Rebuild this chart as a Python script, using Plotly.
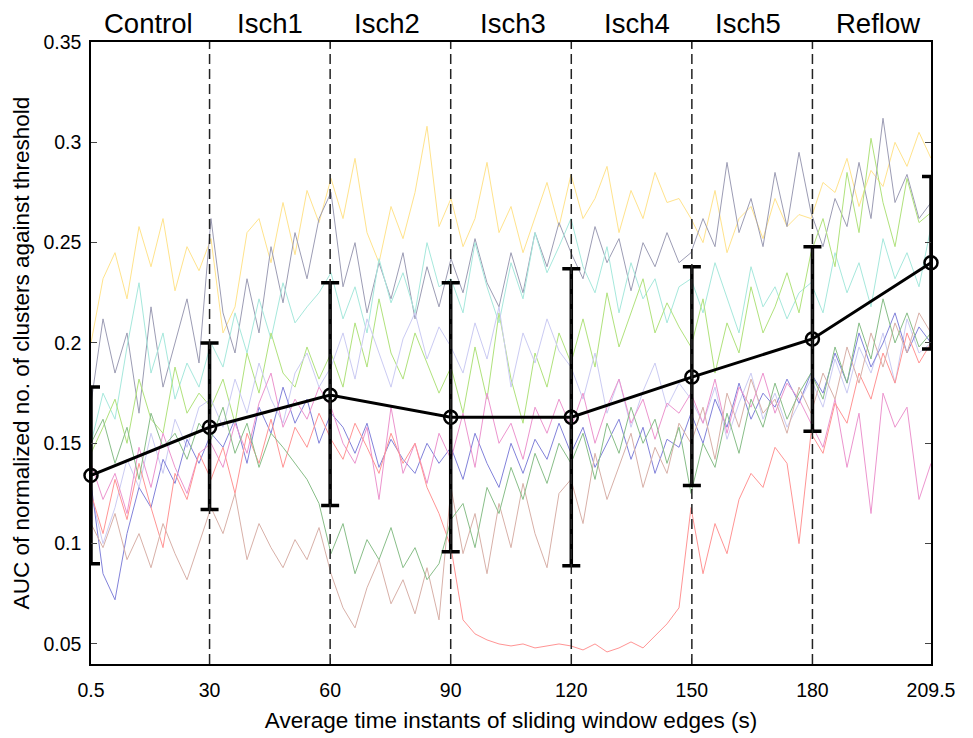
import numpy as np
import plotly.graph_objects as go

# ---------------- data ----------------
time_s = np.linspace(0.5, 209.5, 71)

yellow = [0.200, 0.232, 0.245, 0.222, 0.258, 0.238, 0.262, 0.226, 0.248, 0.236,
          0.252, 0.205, 0.218, 0.255, 0.262, 0.240, 0.270, 0.244, 0.276, 0.260,
          0.282, 0.262, 0.292, 0.255, 0.240, 0.268, 0.252, 0.275, 0.308, 0.258,
          0.272, 0.248, 0.262, 0.290, 0.255, 0.268, 0.245, 0.262, 0.280, 0.258,
          0.284, 0.262, 0.272, 0.288, 0.255, 0.276, 0.262, 0.285, 0.270, 0.272,
          0.262, 0.250, 0.276, 0.245, 0.262, 0.268, 0.252, 0.272, 0.258, 0.264,
          0.262, 0.280, 0.275, 0.292, 0.268, 0.286, 0.278, 0.300, 0.288, 0.305, 0.292]
gray = [0.170, 0.212, 0.185, 0.205, 0.165, 0.218, 0.178, 0.200, 0.222, 0.190,
        0.262, 0.215, 0.195, 0.232, 0.205, 0.248, 0.220, 0.255, 0.232, 0.262,
        0.275, 0.228, 0.250, 0.215, 0.240, 0.222, 0.245, 0.212, 0.238, 0.218,
        0.242, 0.225, 0.252, 0.230, 0.218, 0.245, 0.225, 0.255, 0.238, 0.260,
        0.245, 0.232, 0.258, 0.240, 0.252, 0.226, 0.250, 0.238, 0.255, 0.240,
        0.245, 0.262, 0.248, 0.290, 0.255, 0.272, 0.248, 0.285, 0.258, 0.295,
        0.265, 0.248, 0.272, 0.258, 0.290, 0.262, 0.312, 0.270, 0.284, 0.262, 0.270]
cyan = [0.150, 0.175, 0.162, 0.198, 0.230, 0.185, 0.205, 0.172, 0.190, 0.178,
        0.200, 0.188, 0.215, 0.195, 0.222, 0.202, 0.230, 0.210, 0.218, 0.225,
        0.235, 0.212, 0.228, 0.205, 0.242, 0.220, 0.235, 0.215, 0.250, 0.228,
        0.232, 0.215, 0.250, 0.228, 0.210, 0.240, 0.222, 0.255, 0.235, 0.248,
        0.262, 0.238, 0.225, 0.248, 0.215, 0.240, 0.222, 0.232, 0.210, 0.228,
        0.232, 0.215, 0.240, 0.222, 0.205, 0.238, 0.218, 0.228, 0.212, 0.225,
        0.230, 0.215, 0.245, 0.225, 0.240, 0.218, 0.252, 0.232, 0.245, 0.228, 0.258]
light_green = [0.145, 0.158, 0.172, 0.150, 0.182, 0.162, 0.155, 0.188, 0.165, 0.175,
               0.168, 0.182, 0.160, 0.195, 0.175, 0.205, 0.185, 0.178, 0.198, 0.182,
               0.195, 0.178, 0.210, 0.188, 0.222, 0.195, 0.182, 0.205, 0.190, 0.175,
               0.188, 0.165, 0.198, 0.172, 0.215, 0.182, 0.160, 0.195, 0.178, 0.205,
               0.190, 0.212, 0.188, 0.225, 0.198, 0.215, 0.232, 0.205, 0.220, 0.208,
               0.198, 0.222, 0.185, 0.210, 0.195, 0.228, 0.205, 0.218, 0.235, 0.215,
               0.245, 0.262, 0.238, 0.285, 0.255, 0.302, 0.270, 0.248, 0.282, 0.260, 0.265]
lavender = [0.125, 0.100, 0.118, 0.142, 0.128, 0.155, 0.135, 0.162, 0.148, 0.168,
            0.172, 0.158, 0.182, 0.165, 0.190, 0.172, 0.160, 0.185, 0.195, 0.178,
            0.188, 0.205, 0.182, 0.212, 0.195, 0.178, 0.202, 0.215, 0.192, 0.208,
            0.198, 0.185, 0.210, 0.192, 0.218, 0.178, 0.205, 0.190, 0.212, 0.196,
            0.188, 0.172, 0.195, 0.165, 0.182, 0.158, 0.176, 0.190, 0.168, 0.180,
            0.172, 0.160, 0.178, 0.152, 0.170, 0.185, 0.162, 0.175, 0.158, 0.170,
            0.182, 0.168, 0.192, 0.175, 0.198, 0.185, 0.205, 0.180, 0.212, 0.195, 0.200]
blue = [0.130, 0.085, 0.072, 0.105, 0.128, 0.118, 0.142, 0.130, 0.152, 0.140,
        0.155, 0.148, 0.162, 0.140, 0.168, 0.155, 0.178, 0.160, 0.172, 0.150,
        0.165, 0.158, 0.145, 0.160, 0.138, 0.152, 0.142, 0.135, 0.150, 0.140,
        0.148, 0.132, 0.155, 0.140, 0.128, 0.150, 0.135, 0.152, 0.142, 0.160,
        0.145, 0.158, 0.138, 0.150, 0.162, 0.142, 0.158, 0.135, 0.152, 0.148,
        0.165, 0.150, 0.172, 0.158, 0.180, 0.162, 0.175, 0.168, 0.182, 0.170,
        0.185, 0.175, 0.195, 0.180, 0.205, 0.188, 0.200, 0.215, 0.195, 0.208, 0.200]
pink = [0.140, 0.122, 0.135, 0.115, 0.148, 0.128, 0.155, 0.138, 0.125, 0.145,
        0.150, 0.138, 0.160, 0.145, 0.170, 0.185, 0.158, 0.172, 0.162, 0.178,
        0.168, 0.150, 0.140, 0.158, 0.122, 0.168, 0.135, 0.150, 0.130, 0.155,
        0.142, 0.165, 0.138, 0.175, 0.150, 0.160, 0.142, 0.168, 0.155, 0.172,
        0.158, 0.175, 0.150, 0.168, 0.182, 0.160, 0.172, 0.152, 0.170, 0.165,
        0.175, 0.160, 0.182, 0.155, 0.178, 0.168, 0.185, 0.165, 0.180, 0.172,
        0.160, 0.148, 0.172, 0.138, 0.165, 0.115, 0.175, 0.158, 0.168, 0.122, 0.140]
red = [0.125, 0.105, 0.132, 0.112, 0.140, 0.118, 0.098, 0.135, 0.122, 0.145,
       0.132, 0.148, 0.125, 0.155, 0.140, 0.162, 0.138, 0.158, 0.148, 0.165,
       0.152, 0.142, 0.160, 0.148, 0.135, 0.155, 0.140, 0.150, 0.128, 0.115,
       0.098, 0.062, 0.055, 0.052, 0.050, 0.049, 0.050, 0.048, 0.049, 0.050,
       0.049, 0.047, 0.050, 0.046, 0.048, 0.051, 0.048, 0.054, 0.060, 0.068,
       0.118, 0.085, 0.110, 0.095, 0.122, 0.135, 0.128, 0.148, 0.140, 0.100,
       0.155, 0.145, 0.170, 0.160, 0.185, 0.172, 0.195, 0.180, 0.205, 0.190, 0.200]
brown = [0.110, 0.098, 0.115, 0.092, 0.105, 0.088, 0.110, 0.095, 0.082, 0.100,
         0.118, 0.105, 0.125, 0.092, 0.110, 0.098, 0.088, 0.102, 0.092, 0.108,
         0.085, 0.068, 0.058, 0.078, 0.092, 0.070, 0.082, 0.065, 0.088, 0.062,
         0.128, 0.095, 0.115, 0.085, 0.120, 0.098, 0.130, 0.105, 0.088, 0.125,
         0.132, 0.110, 0.145, 0.122, 0.138, 0.155, 0.128, 0.148, 0.135, 0.160,
         0.150, 0.168, 0.142, 0.175, 0.158, 0.182, 0.165, 0.172, 0.155, 0.178,
         0.165, 0.185, 0.172, 0.198, 0.180, 0.205, 0.188, 0.210, 0.195, 0.215, 0.205]
green = [0.150, 0.162, 0.140, 0.158, 0.132, 0.165, 0.148, 0.155, 0.142, 0.160,
         0.152, 0.168, 0.145, 0.160, 0.138, 0.155, 0.148, 0.140, 0.132, 0.120,
         0.095, 0.110, 0.085, 0.102, 0.092, 0.108, 0.088, 0.098, 0.082, 0.090,
         0.112, 0.120, 0.098, 0.128, 0.115, 0.138, 0.122, 0.145, 0.130, 0.150,
         0.140, 0.155, 0.132, 0.160, 0.145, 0.168, 0.150, 0.162, 0.140, 0.158,
         0.125, 0.150, 0.138, 0.165, 0.145, 0.172, 0.158, 0.180, 0.162, 0.175,
         0.185, 0.172, 0.198, 0.180, 0.210, 0.192, 0.222, 0.200, 0.215, 0.198, 0.205]

subjects = [yellow, gray, cyan, light_green, lavender, blue, pink, red, brown, green]
subject_colors = ["#FFE38C", "#9C9CB4", "#A6E8DC", "#B0E27C", "#CBCBF3",
                  "#8282DA", "#EC94CE", "#FF9494", "#D8B0A8", "#88BE88"]

edge_times = [0.5, 30, 60, 90, 120, 150, 180, 209.5]
edge_labels = ["0.5", "30", "60", "90", "120", "150", "180", "209.5"]
mean_auc = [0.134, 0.158, 0.174, 0.163, 0.163, 0.183, 0.202, 0.240]
err_upper = [0.178, 0.200, 0.230, 0.230, 0.237, 0.238, 0.248, 0.283]
err_lower = [0.090, 0.117, 0.119, 0.096, 0.089, 0.129, 0.156, 0.197]
phase_names = ["Control", "Isch1", "Isch2", "Isch3", "Isch4", "Isch5", "Reflow"]
boundary_times = [30, 60, 90, 120, 150, 180]

# ---------------- figure ----------------
FONT = "Liberation Sans, Arial, sans-serif"
fig = go.Figure()

for vals, col in zip(subjects, subject_colors):
    fig.add_trace(go.Scatter(x=time_s, y=vals, mode="lines",
                             line=dict(color=col, width=1), showlegend=False,
                             hoverinfo="skip"))

for bt in boundary_times:
    fig.add_shape(type="line", x0=bt, x1=bt, y0=0, y1=1, xref="x", yref="paper",
                  line=dict(color="#222222", width=1.5, dash="10px,5px"))

plus = [u - m for u, m in zip(err_upper, mean_auc)]
minus = [m - l for m, l in zip(mean_auc, err_lower)]
fig.add_trace(go.Scatter(x=edge_times, y=mean_auc, mode="lines",
                         line=dict(color="black", width=3),
                         error_y=dict(type="data", symmetric=False, array=plus,
                                      arrayminus=minus, color="black",
                                      thickness=3.5, width=9),
                         showlegend=False))
fig.add_trace(go.Scatter(x=edge_times, y=mean_auc, mode="markers",
                         marker=dict(symbol="circle-open", size=13, color="black",
                                     line=dict(width=2.5, color="black")),
                         cliponaxis=False, showlegend=False))

label_pos = [14.7, 45.0, 74.1, 105.5, 136.4, 164.0, 196.3]
for name, xp in zip(phase_names, label_pos):
    fig.add_annotation(x=xp, y=1.0, xref="x", yref="paper", yanchor="bottom",
                       yshift=1, text=name, showarrow=False,
                       font=dict(family=FONT, size=27.5, color="black"))

fig.update_xaxes(range=[0.5, 209.5], tickvals=edge_times, ticktext=edge_labels,
                 showline=True, linecolor="black", linewidth=1.5, mirror="ticks",
                 ticks="inside", ticklen=6, tickcolor="#444", showgrid=False,
                 zeroline=False, ticklabelstandoff=8,
                 tickfont=dict(family=FONT, size=19.5, color="black"),
                 title=dict(text="Average time instants of sliding window edges (s)",
                            font=dict(family=FONT, size=22.5, color="black"), standoff=12))
fig.update_yaxes(range=[0.04, 0.35], tickvals=[0.05, 0.1, 0.15, 0.2, 0.25, 0.3, 0.35],
                 ticktext=["0.05", "0.1", "0.15", "0.2", "0.25", "0.3", "0.35"],
                 showline=True, linecolor="black", linewidth=1.5, mirror="ticks",
                 ticks="inside", ticklen=6, tickcolor="#444", showgrid=False,
                 zeroline=False, ticklabelstandoff=4,
                 tickfont=dict(family=FONT, size=19.5, color="black"),
                 title=dict(text="AUC of normalized no. of clusters against threshold",
                            font=dict(family=FONT, size=22.5, color="black"), standoff=8))

fig.update_layout(width=973, height=738, plot_bgcolor="white", paper_bgcolor="white",
                  margin=dict(l=83, r=50, t=34, b=82), showlegend=False,
                  font=dict(family=FONT))

fig.write_html("out.html")
